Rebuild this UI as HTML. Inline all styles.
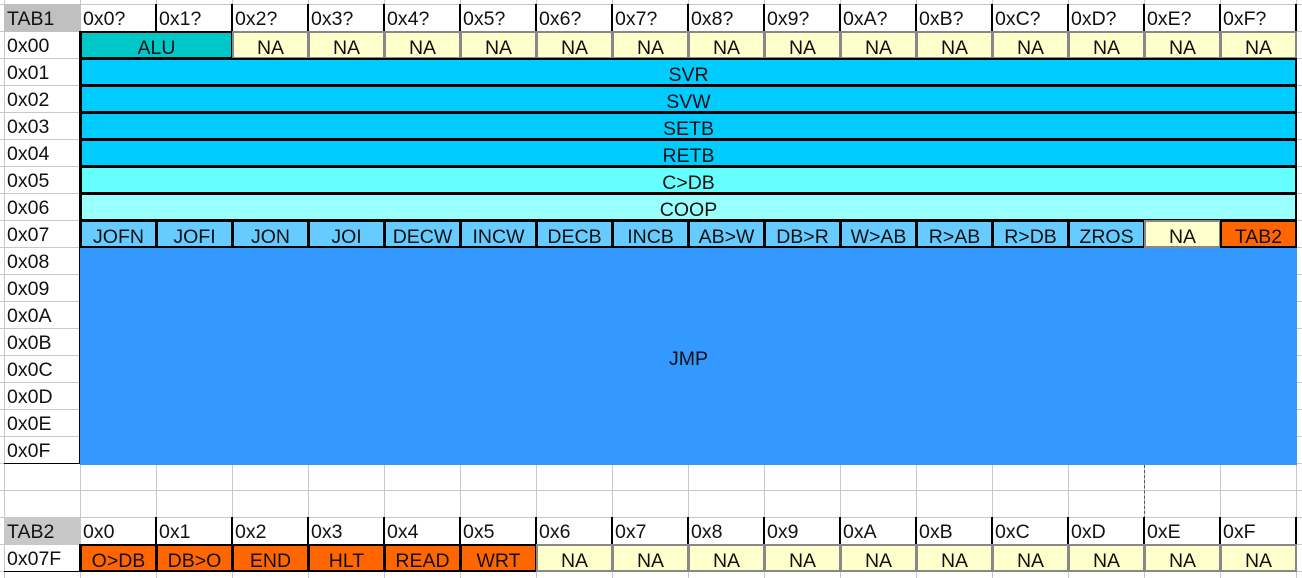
<!DOCTYPE html>
<html><head><meta charset="utf-8"><style>
body{margin:0;width:1302px;height:578px;background:#fff;overflow:hidden;font-family:"Liberation Sans",sans-serif;}
#sheet{position:relative;width:1302px;height:578px;}
.c{position:absolute;box-sizing:border-box;font-size:19.5px;color:#111;white-space:nowrap;overflow:hidden;padding-top:3px;}
.g{position:absolute;background:#c8c8c8;}
.ctr{text-align:center;}
.lft{padding-left:3px;}
</style></head><body>
<div id="sheet"></div>
<script>
const sheet=document.getElementById('sheet');
const X0=5,CW0=76,CW=76,Y0=5,RH=27;
function cx(c){return c===0?X0:X0+CW0+(c-1)*CW;}
function ry(r){return Y0+r*RH;}
for(let c=0;c<=17;c++){const d=document.createElement('div');d.className='g';d.style.left=(cx(c)-1)+'px';d.style.top='0px';d.style.width='1px';d.style.height='578px';

sheet.appendChild(d);}
for(let r=0;r<=21;r++){const d=document.createElement('div');d.className='g';d.style.top=(ry(r)-1)+'px';d.style.left='0px';d.style.height='1px';d.style.width='1302px';

sheet.appendChild(d);}
const pb=document.createElement('div');pb.style.cssText='position:absolute;left:1144px;top:465px;height:54px;border-left:1px dashed #555;';

sheet.appendChild(pb);
function cell(c0,c1,r0,r1,text,opts){
  const d=document.createElement('div');d.className='c '+(opts.align||'ctr');
  d.style.left=(cx(c0)-1)+'px';d.style.top=(ry(r0)-1)+'px';
  d.style.width=(cx(c1)-cx(c0)+1)+'px';d.style.height=(ry(r1)-ry(r0)+1)+'px';
  if(opts.bg)d.style.background=opts.bg;
  if(opts.border)d.style.border=opts.border;
  if(opts.br)d.style.borderRight=opts.br;
  if(opts.bb)d.style.borderBottom=opts.bb;
  const h=ry(r1)-ry(r0);
  d.style.lineHeight=(r1-r0>1?h:24)+'px';
  d.textContent=text;
  
  
  sheet.appendChild(d);return d;
}
const BK='2px solid #000',GR='2px solid #888';
const NA='#ffffcc';
const hex='0123456789ABCDEF';
cell(0,1,0,1,'TAB1',{align:'lft',bg:'#c0c0c0',name:'tab1-label'});
for(let i=0;i<16;i++)cell(i+1,i+2,0,1,'0x'+hex[i]+'?',{align:'lft',br:BK,name:'column-header'});
const rl=['0x00','0x01','0x02','0x03','0x04','0x05','0x06','0x07','0x08','0x09','0x0A','0x0B','0x0C','0x0D','0x0E','0x0F'];
rl.forEach((t,i)=>cell(0,1,i+1,i+2,t,{align:'lft',br:BK,bb:i===15?'1px solid #000':null,name:'row-label'}));
cell(1,3,1,2,'ALU',{bg:'#00c8c8',border:BK,name:'alu-cell'});
for(let i=3;i<17;i++)cell(i,i+1,1,2,'NA',{bg:NA,border:GR,name:'na-cell'});
const wide=[['SVR','#00ccff'],['SVW','#00ccff'],['SETB','#00ccff'],['RETB','#00ccff'],['C>DB','#66ffff'],['COOP','#99ffff']];
wide.forEach((w,i)=>cell(1,17,i+2,i+3,w[0],{bg:w[1],border:BK,name:w[0].toLowerCase().replace('>','-')+'-row'}));
const r7=['JOFN','JOFI','JON','JOI','DECW','INCW','DECB','INCB','AB>W','DB>R','W>AB','R>AB','R>DB','ZROS'];
r7.forEach((t,i)=>cell(i+1,i+2,8,9,t,{bg:'#66ccff',border:BK,name:'op-cell'}));
cell(15,16,8,9,'NA',{bg:NA,border:GR,name:'na-cell'});
cell(16,17,8,9,'TAB2',{bg:'#ff6600',border:BK,name:'tab2-link-cell'});
cell(1,17,9,17,'JMP',{bg:'#3399ff',name:'jmp-block'}).style.top=ry(9)+'px';
cell(0,1,19,20,'TAB2',{align:'lft',bg:'#c8c8c8',name:'tab2-label'});
for(let i=0;i<16;i++)cell(i+1,i+2,19,20,'0x'+hex[i],{align:'lft',br:BK,name:'tab2-column-header'});
cell(0,1,20,21,'0x07F',{align:'lft',br:BK,bb:'1px solid #000',name:'tab2-row-label'});
const t2=['O>DB','DB>O','END','HLT','READ','WRT'];
t2.forEach((t,i)=>cell(i+1,i+2,20,21,t,{bg:'#ff6600',border:BK,name:'tab2-op-cell'}));
for(let i=7;i<17;i++)cell(i,i+1,20,21,'NA',{bg:NA,border:GR,name:'na-cell'});
</script>
</body></html>
